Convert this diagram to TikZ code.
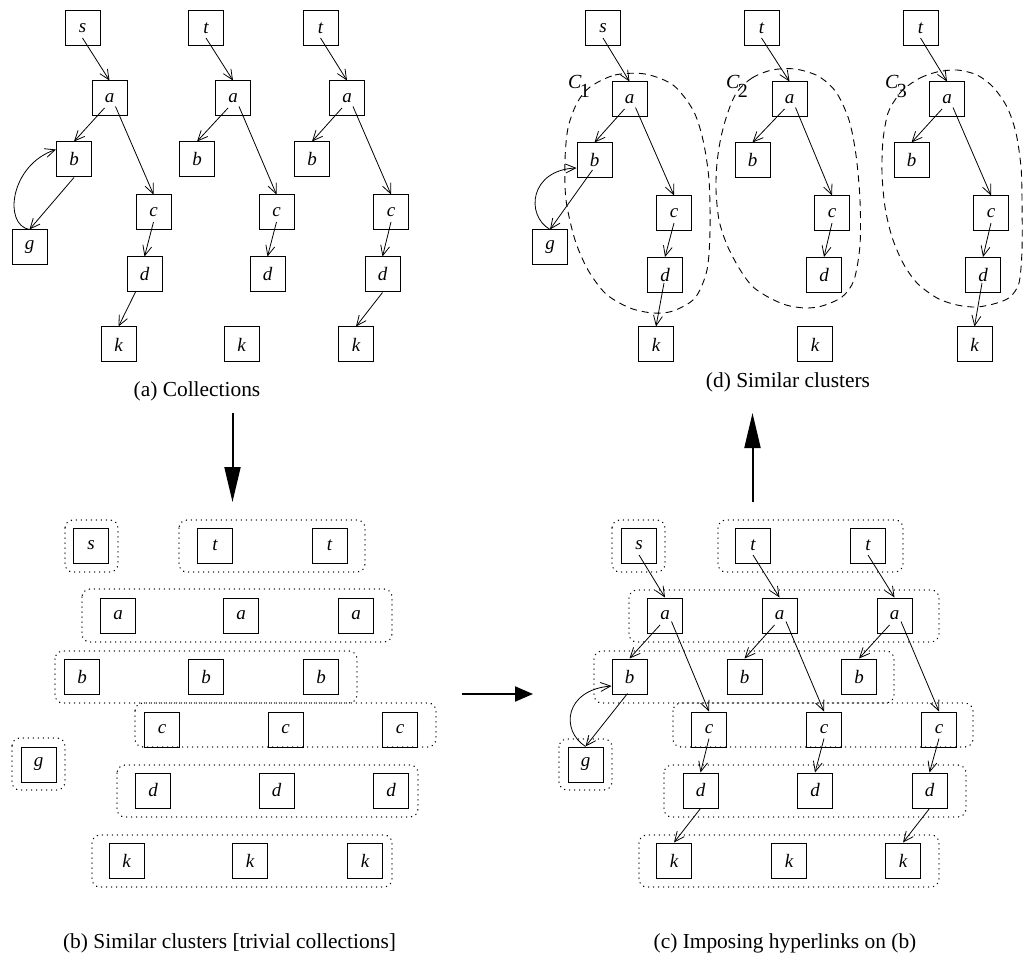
\documentclass[tikz,border=0pt]{standalone}
\usepackage{fontspec}
\setmainfont{Liberation Serif}
\usetikzlibrary{arrows.meta}
\begin{document}
\begin{tikzpicture}[x=0.5pt,y=-0.5pt,
  box/.style={draw, line width=0.5pt, minimum size=17.5pt, inner sep=0pt, font=\fontsize{9.5}{11}\selectfont\itshape},
  edge/.style={line width=0.4pt, -{Straight Barb[length=5pt,width=4.5pt]}},
  grp/.style={line width=0.7pt, dash pattern=on 0.1pt off 2.4pt, line cap=round, rounded corners=4pt},
  clu/.style={line width=0.45pt, dash pattern=on 3.5pt off 2.5pt},
  big/.style={line width=1pt, -{Triangle[length=17.5pt,width=8pt]}},
  bigs/.style={line width=1pt, -{Triangle[length=9pt,width=7.5pt]}},
  capt/.style={font=\fontsize{10.7}{13}\selectfont, inner sep=0pt},
  clab/.style={font=\fontsize{10}{12}\selectfont, inner sep=0pt}
]
\useasboundingbox (0,0) rectangle (1023,957);

% ---------------- Panel (a) ----------------
\node[box] (As)  at (82.5,28.5) {s};
\node[box] (Aa1) at (109.5,98.5) {a};
\node[box] (Ab1) at (74,159.5) {b};
\node[box] (Ag)  at (29.5,247.5) {g};
\node[box] (Ac1) at (153.5,212.5) {c};
\node[box] (Ad1) at (144.5,274.5) {d};
\node[box] (Ak1) at (118.5,344.5) {k};
\node[box] (At2) at (206,28.5) {t};
\node[box] (Aa2) at (233,98.5) {a};
\node[box] (Ab2) at (197,159.5) {b};
\node[box] (Ac2) at (276.5,212.5) {c};
\node[box] (Ad2) at (267.5,274.5) {d};
\node[box] (Ak2) at (241.5,344.5) {k};
\node[box] (At3) at (320.5,28.5) {t};
\node[box] (Aa3) at (347,98.5) {a};
\node[box] (Ab3) at (312,159.5) {b};
\node[box] (Ac3) at (391,212.5) {c};
\node[box] (Ad3) at (382.5,274.5) {d};
\node[box] (Ak3) at (356,344.5) {k};

\draw[edge] ([shift={(0,9.5)}]As.center) -- (Aa1.north);
\draw[edge] ([shift={(-5,9.5)}]Aa1.center) -- (Ab1.north);
\draw[edge] ([shift={(6,8)}]Aa1.center) -- (Ac1.north);
\draw[edge] (Ab1.south) -- (Ag.north);
\draw[edge] (Ag.north) .. controls (3,225) and (10,165) .. ([shift={(0,-10)}]Ab1.west);
\draw[edge] ([shift={(0,9.5)}]Ac1.center) -- (Ad1.north);
\draw[edge] ([shift={(-9,17.5)}]Ad1.center) -- (Ak1.north);

\draw[edge] ([shift={(0,9.5)}]At2.center) -- (Aa2.north);
\draw[edge] ([shift={(-5,9.5)}]Aa2.center) -- (Ab2.north);
\draw[edge] ([shift={(6,8)}]Aa2.center) -- (Ac2.north);
\draw[edge] ([shift={(0,9.5)}]Ac2.center) -- (Ad2.north);

\draw[edge] ([shift={(0,9.5)}]At3.center) -- (Aa3.north);
\draw[edge] ([shift={(-5,9.5)}]Aa3.center) -- (Ab3.north);
\draw[edge] ([shift={(6,8)}]Aa3.center) -- (Ac3.north);
\draw[edge] ([shift={(0,9.5)}]Ac3.center) -- (Ad3.north);
\draw[edge] (Ad3.south) -- (Ak3.north);

\node[capt] (capA) at (197,391) {(a) Collections};

% ---------------- Panel (d) ----------------
\draw[clu] plot[smooth cycle] coordinates {(590,87) (615,75) (645,74) (673,85) (693,110) (703,140) (709,180) (710,230) (707,270) (695,298) (673,311) (653,313) (630,308) (606,294) (588,270) (575,240) (566,200) (565,160) (568,128) (577,103)};
\draw[clu] plot[smooth cycle] coordinates {(737,92) (752,78) (772,70) (795,69) (818,76) (836,92) (849,120) (856,155) (860,200) (860,245) (854,280) (842,297) (822,306) (805,308) (786,305) (768,297) (752,286) (739,268) (727,245) (719,220) (716,190) (717,163) (721,137) (728,112)};
\draw[clu] plot[smooth cycle] coordinates {(905,88) (920,78) (937,72) (957,70) (977,75) (993,87) (1007,107) (1016,133) (1021,167) (1022,200) (1022,250) (1019,283) (1010,297) (997,303) (977,307) (957,305) (937,298) (917,283) (903,263) (892,237) (885,207) (882,173) (883,140) (888,113) (897,97)};
\node[clab] (C1) at (579,86) {\textit{C}\kern-1pt\raisebox{-4.5pt}{1}};
\node[clab] (C2) at (737,86) {\textit{C}\kern-1pt\raisebox{-4.5pt}{2}};
\node[clab] (C3) at (896,86) {\textit{C}\kern-1pt\raisebox{-4.5pt}{3}};

\node[box] (Ds)  at (603,28.5) {s};
\node[box] (Da1) at (629.5,99.5) {a};
\node[box] (Db1) at (594.5,160.5) {b};
\node[box] (Dg)  at (550,247.5) {g};
\node[box] (Dc1) at (674,213.5) {c};
\node[box] (Dd1) at (665,275) {d};
\node[box] (Dk1) at (656,344.5) {k};
\node[box] (Dt2) at (761.5,28.5) {t};
\node[box] (Da2) at (789.5,99.5) {a};
\node[box] (Db2) at (752.5,160.5) {b};
\node[box] (Dc2) at (832,213.5) {c};
\node[box] (Dd2) at (824,275) {d};
\node[box] (Dk2) at (815,344.5) {k};
\node[box] (Dt3) at (920.5,28.5) {t};
\node[box] (Da3) at (947,99.5) {a};
\node[box] (Db3) at (911.5,160.5) {b};
\node[box] (Dc3) at (991,213.5) {c};
\node[box] (Dd3) at (983,275) {d};
\node[box] (Dk3) at (974.5,344.5) {k};

\draw[edge] ([shift={(0,9.5)}]Ds.center) -- (Da1.north);
\draw[edge] ([shift={(-5,9.5)}]Da1.center) -- (Db1.north);
\draw[edge] ([shift={(6,8)}]Da1.center) -- (Dc1.north);
\draw[edge] ([shift={(-2,9.5)}]Db1.center) -- (Dg.north);
\draw[edge] (Dg.north) .. controls (525,215) and (530,170) .. ([shift={(0,7.5)}]Db1.west);
\draw[edge] ([shift={(0,9.5)}]Dc1.center) -- (Dd1.north);
\draw[edge] ([shift={(-1,8)}]Dd1.center) -- (Dk1.north);

\draw[edge] ([shift={(0,9.5)}]Dt2.center) -- (Da2.north);
\draw[edge] ([shift={(-5,9.5)}]Da2.center) -- (Db2.north);
\draw[edge] ([shift={(6,8)}]Da2.center) -- (Dc2.north);
\draw[edge] ([shift={(0,9.5)}]Dc2.center) -- (Dd2.north);

\draw[edge] ([shift={(0,9.5)}]Dt3.center) -- (Da3.north);
\draw[edge] ([shift={(-5,9.5)}]Da3.center) -- (Db3.north);
\draw[edge] ([shift={(6,8)}]Da3.center) -- (Dc3.north);
\draw[edge] ([shift={(0,9.5)}]Dc3.center) -- (Dd3.north);
\draw[edge] ([shift={(-1,8)}]Dd3.center) -- (Dk3.north);

\node[capt] (capD) at (788,382) {(d) Similar clusters};

% ---------------- Panel (b) ----------------
\draw[grp] (65,520) rectangle (118,572);
\draw[grp] (179,520) rectangle (365,572);
\draw[grp] (82,589) rectangle (392,642);
\draw[grp] (55,651) rectangle (357,703);
\draw[grp] (135,703) rectangle (436,747);
\draw[grp] (12,738) rectangle (65,790);
\draw[grp] (117,765) rectangle (418,817);
\draw[grp] (92,835) rectangle (392,887);

\node[box] (Bs)  at (91,545.5) {s};
\node[box] (Bt2) at (215,545.5) {t};
\node[box] (Bt3) at (329.5,545.5) {t};
\node[box] (Ba1) at (118,615.5) {a};
\node[box] (Ba2) at (241,615.5) {a};
\node[box] (Ba3) at (356,615.5) {a};
\node[box] (Bb1) at (82,676.5) {b};
\node[box] (Bb2) at (206,676.5) {b};
\node[box] (Bb3) at (321,676.5) {b};
\node[box] (Bc1) at (162,729.5) {c};
\node[box] (Bc2) at (285.5,729.5) {c};
\node[box] (Bc3) at (400,729.5) {c};
\node[box] (Bg)  at (38.5,764.5) {g};
\node[box] (Bd1) at (153,790.5) {d};
\node[box] (Bd2) at (276.5,790.5) {d};
\node[box] (Bd3) at (391,790.5) {d};
\node[box] (Bk1) at (126.5,860.5) {k};
\node[box] (Bk2) at (250,860.5) {k};
\node[box] (Bk3) at (365,860.5) {k};

\node[capt] (capB) at (229.5,943) {(b) Similar clusters [trivial collections]};

% ---------------- Panel (c) ----------------
\draw[grp] (612,520) rectangle (665,572);
\draw[grp] (718,520) rectangle (903,572);
\draw[grp] (629,590) rectangle (939,642);
\draw[grp] (594,651) rectangle (894,703);
\draw[grp] (673,703) rectangle (973,747);
\draw[grp] (559,739) rectangle (612,790);
\draw[grp] (664,765) rectangle (966,817);
\draw[grp] (639,835) rectangle (939,887);

\node[box] (Cs)  at (639,545.5) {s};
\node[box] (Ct2) at (753,545.5) {t};
\node[box] (Ct3) at (868,545.5) {t};
\node[box] (Ca1) at (665,615.5) {a};
\node[box] (Ca2) at (779.5,615.5) {a};
\node[box] (Ca3) at (894.5,615.5) {a};
\node[box] (Cb1) at (629.5,676.5) {b};
\node[box] (Cb2) at (744.5,676.5) {b};
\node[box] (Cb3) at (859,676.5) {b};
\node[box] (Cc1) at (709,729.5) {c};
\node[box] (Cc2) at (824,729.5) {c};
\node[box] (Cc3) at (939,729.5) {c};
\node[box] (Cg)  at (585.5,764.5) {g};
\node[box] (Cd1) at (700.5,790.5) {d};
\node[box] (Cd2) at (815,790.5) {d};
\node[box] (Cd3) at (929.5,790.5) {d};
\node[box] (Ck1) at (674,860.5) {k};
\node[box] (Ck2) at (789,860.5) {k};
\node[box] (Ck3) at (903,860.5) {k};

\draw[edge] ([shift={(0,9.5)}]Cs.center) -- (Ca1.north);
\draw[edge] ([shift={(0,9.5)}]Ct2.center) -- (Ca2.north);
\draw[edge] ([shift={(0,9.5)}]Ct3.center) -- (Ca3.north);
\draw[edge] ([shift={(-5,9.5)}]Ca1.center) -- (Cb1.north);
\draw[edge] ([shift={(6.5,6)}]Ca1.center) -- (Cc1.north);
\draw[edge] ([shift={(-5,9.5)}]Ca2.center) -- (Cb2.north);
\draw[edge] ([shift={(6.5,6)}]Ca2.center) -- (Cc2.north);
\draw[edge] ([shift={(-5,9.5)}]Ca3.center) -- (Cb3.north);
\draw[edge] ([shift={(6.5,6)}]Ca3.center) -- (Cc3.north);
\draw[edge] ([shift={(-2,17)}]Cb1.center) -- (Cg.north);
\draw[edge] (Cg.north) .. controls (560,730) and (565,690) .. ([shift={(0,9.5)}]Cb1.west);
\draw[edge] ([shift={(0,9)}]Cc1.center) -- (Cd1.north);
\draw[edge] ([shift={(0,9)}]Cc2.center) -- (Cd2.north);
\draw[edge] ([shift={(0,9)}]Cc3.center) -- (Cd3.north);
\draw[edge] (Cd1.south) -- (Ck1.north);
\draw[edge] (Cd3.south) -- (Ck3.north);

\node[capt] (capC) at (785,943) {(c) Imposing hyperlinks on (b)};

% ---------------- big arrows ----------------
\coordinate (dnA) at (232.5,413);
\coordinate (dnB) at (232.5,502);
\draw[big] (dnA) -- (dnB);
\coordinate (rtA) at (462,694);
\coordinate (rtB) at (533,694);
\draw[bigs] (rtA) -- (rtB);
\coordinate (upA) at (752.5,502);
\coordinate (upB) at (752.5,413);
\draw[big] (upA) -- (upB);
\end{tikzpicture}
\end{document}
